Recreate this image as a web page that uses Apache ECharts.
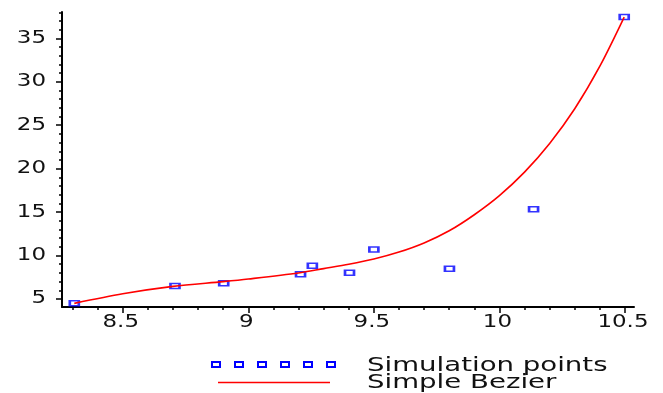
<!DOCTYPE html>
<html>
<head>
<meta charset="utf-8">
<script src="https://cdn.jsdelivr.net/npm/echarts@6/dist/echarts.min.js"></script>
<style>
  html, body { margin: 0; padding: 0; background: #fff; }
  #chart { width: 663px; height: 393px; }
</style>
</head>
<body>
<div id="chart"></div>
<script>
// simulation points
const simX = [8.307, 8.708, 8.902, 9.208, 9.255, 9.403, 9.5, 9.801, 10.136, 10.497];
const simY = [4.5, 6.5, 6.8, 7.84, 8.83, 8.02, 10.71, 8.48, 15.34, 37.45];

// simple bezier curve, sampled along the red line
const bezX = [8.307, 8.5, 8.7, 8.9, 9.0, 9.2, 9.3, 9.4, 9.5, 9.6, 9.7, 9.8, 9.9, 10.0, 10.1, 10.2, 10.3, 10.4, 10.497];
const bezY = [4.5, 5.6, 6.45, 7.0, 7.3, 8.0, 8.5, 9.0, 9.6, 10.4, 11.45, 12.85, 14.7, 16.9, 19.6, 22.9, 26.9, 31.8, 37.45];

const xTicks = [8.5, 9, 9.5, 10, 10.5];
const xTickLabels = ["8.5", "9", "9.5", "10", "10.5"];
const xMinor = [8.3, 8.4, 8.5, 8.6, 8.7, 8.8, 8.9, 9.0, 9.1, 9.2, 9.3, 9.4, 9.5, 9.6, 9.7, 9.8, 9.9, 10.0, 10.1, 10.2, 10.3, 10.4, 10.5];
const yTicks = [5, 10, 15, 20, 25, 30, 35];
const yTickLabels = ["5", "10", "15", "20", "25", "30", "35"];
const yMinor = [5, 6, 7, 8, 9, 10, 11, 12, 13, 14, 15, 16, 17, 18, 19, 20, 21, 22, 23, 24, 25, 26, 27, 28, 29, 30, 31, 32, 33, 34, 35, 36, 37, 38];

const legendNames = ["Simulation points", "Simple Bezier"];

const X_MIN = 8.258, X_MAX = 10.536;
const Y_MIN = 4.08, Y_MAX = 38.03;

const chart = echarts.init(document.getElementById("chart"));

const axisCommon = {
  type: "value",
  splitLine: { show: false },
  axisLabel: { show: false }
};

const option = {
  animation: false,
  backgroundColor: "#fff",
  grid: { left: 62, right: 29, top: 12, bottom: 86 },
  xAxis: [
    {
      ...axisCommon,
      min: X_MIN, max: X_MAX, position: "bottom",
      axisLine: { onZero: false, lineStyle: { color: "#000", width: 2 } },
      axisTick: { customValues: xTicks, length: 6, lineStyle: { color: "#000", width: 1.5 } }
    },
    {
      ...axisCommon,
      min: X_MIN, max: X_MAX, position: "bottom",
      axisLine: { show: false, onZero: false },
      axisTick: { customValues: xMinor, length: 3, lineStyle: { color: "#000", width: 1.5 } }
    }
  ],
  yAxis: [
    {
      ...axisCommon,
      min: Y_MIN, max: Y_MAX, position: "left",
      axisLine: { show: true, onZero: false, lineStyle: { color: "#000", width: 2 } },
      axisTick: { customValues: yTicks, length: 6, lineStyle: { color: "#000", width: 1.5 } }
    },
    {
      ...axisCommon,
      min: Y_MIN, max: Y_MAX, position: "left",
      axisLine: { show: false, onZero: false },
      axisTick: { customValues: yMinor, length: 3, lineStyle: { color: "#000", width: 1.5 } }
    }
  ],
  series: [
    {
      name: legendNames[1],
      type: "line",
      data: bezX.map((x, i) => [x, bezY[i]]),
      symbol: "none",
      smooth: 0.3,
      lineStyle: { color: "#ff0000", width: 1.6 },
      z: 3
    },
    {
      name: legendNames[0],
      type: "scatter",
      data: simX.map((x, i) => [x, simY[i]]),
      symbol: "rect",
      symbolSize: [9, 5],
      itemStyle: { color: "rgba(0,0,0,0)", borderColor: "#0000ff", borderWidth: 2 },
      z: 2
    }
  ]
};

chart.setOption(option);

// tick labels, placed through the axes, drawn wide like the original
const labelFont = '17px "DejaVu Sans"';
const graphics = [];
const baseY = chart.convertToPixel({ yAxisIndex: 0 }, Y_MIN);
const baseX = chart.convertToPixel({ xAxisIndex: 0 }, X_MIN);
xTicks.forEach((v, i) => {
  graphics.push({
    type: "text",
    x: chart.convertToPixel({ xAxisIndex: 0 }, v) - 2,
    y: baseY + 16,
    scaleX: 1.35,
    style: { text: xTickLabels[i], fill: "#111", font: labelFont, align: "center", verticalAlign: "middle" }
  });
});
yTicks.forEach((v, i) => {
  graphics.push({
    type: "text",
    x: baseX - 16,
    y: chart.convertToPixel({ yAxisIndex: 0 }, v),
    scaleX: 1.35,
    style: { text: yTickLabels[i], fill: "#111", font: labelFont, align: "right", verticalAlign: "middle" }
  });
});

// legend
for (let k = 0; k < 6; k++) {
  graphics.push({
    type: "rect",
    shape: { x: 212 + k * 23, y: 362, width: 8, height: 5 },
    style: { fill: "none", stroke: "#0000ff", lineWidth: 2 }
  });
}
graphics.push({
  type: "line",
  shape: { x1: 218, y1: 382.5, x2: 330, y2: 382.5 },
  style: { stroke: "#ff0000", lineWidth: 1.5 }
});
const legendFont = '20px "DejaVu Sans"';
graphics.push({
  type: "text", x: 367, y: 366, scaleX: 1.38,
  style: { text: legendNames[0], fill: "#111", font: legendFont, align: "left", verticalAlign: "middle" }
});
graphics.push({
  type: "text", x: 367, y: 383, scaleX: 1.38,
  style: { text: legendNames[1], fill: "#111", font: legendFont, align: "left", verticalAlign: "middle" }
});

chart.setOption({ graphic: graphics });
</script>
</body>
</html>
